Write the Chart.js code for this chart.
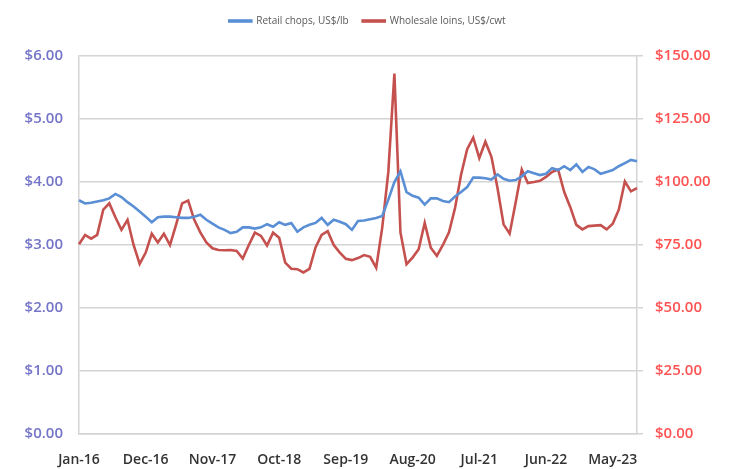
<!DOCTYPE html>
<html>
<head>
<meta charset="utf-8">
<script src="https://cdn.jsdelivr.net/npm/chart.js@4/dist/chart.umd.min.js"></script>
<style>
  html, body { margin: 0; padding: 0; background: #fff; }
  #wrap { width: 735px; height: 469px; }
</style>
</head>
<body>
<div id="wrap"><canvas id="chart"></canvas></div>
<script>
// monthly, Jan-16 .. Sep-23
const monthNames = ['Jan', 'Feb', 'Mar', 'Apr', 'May', 'Jun', 'Jul', 'Aug', 'Sep', 'Oct', 'Nov', 'Dec'];
const months = [];
for (let i = 0; i < 93; i++) {
    months.push(monthNames[i % 12] + '-' + (16 + Math.floor(i / 12)));
}

// Retail chops, US$/lb (left axis)
const retailChops = [
    3.71, 3.66, 3.67, 3.69, 3.71, 3.74, 3.81, 3.76, 3.68, 3.61, 3.53, 3.45,
    3.36, 3.44, 3.45, 3.45, 3.44, 3.43, 3.43, 3.45, 3.48, 3.40, 3.34, 3.28,
    3.24, 3.19, 3.21, 3.28, 3.28, 3.26, 3.28, 3.33, 3.29, 3.36, 3.32, 3.35,
    3.21, 3.28, 3.32, 3.35, 3.43, 3.32, 3.40, 3.37, 3.33, 3.24, 3.38, 3.39,
    3.41, 3.43, 3.46, 3.72, 4.00, 4.17, 3.84, 3.78, 3.75, 3.64, 3.74, 3.74,
    3.70, 3.68, 3.77, 3.84, 3.92, 4.07, 4.07, 4.06, 4.04, 4.12, 4.05, 4.02,
    4.03, 4.09, 4.17, 4.14, 4.11, 4.13, 4.22, 4.19, 4.25, 4.19, 4.28, 4.16,
    4.24, 4.20, 4.13, 4.16, 4.19, 4.25, 4.30, 4.35, 4.33
];

// Wholesale loins, US$/cwt (right axis)
const wholesaleLoins = [
    75.3, 79.0, 77.5, 79.0, 89.0, 91.5, 86.0, 81.0, 85.0, 75.0, 67.5, 72.0,
    79.5, 76.0, 79.5, 75.0, 83.0, 91.5, 92.6, 85.0, 80.0, 76.0, 73.7, 73.0,
    72.9, 73.0, 72.6, 69.6, 75.0, 79.9, 78.6, 74.8, 79.9, 77.9, 68.0, 65.6,
    65.4, 64.1, 65.5, 74.0, 79.0, 80.5, 75.0, 72.0, 69.5, 69.0, 69.8, 71.0,
    70.3, 66.0, 82.0, 104.0, 143.0, 80.0, 67.4, 70.0, 73.3, 83.8, 73.9, 70.7,
    75.0, 80.0, 89.7, 103.0, 113.0, 117.6, 109.5, 116.0, 110.0, 97.6, 83.2, 79.5,
    92.0, 104.9, 99.6, 100.0, 100.5, 102.0, 104.0, 104.9, 96.0, 90.0, 83.0, 81.2,
    82.5, 82.7, 82.9, 81.2, 83.4, 89.0, 100.2, 96.3, 97.6
];

const leftTicks = [0, 1, 2, 3, 4, 5, 6];
const rightTicks = [0, 25, 50, 75, 100, 125, 150];
const labelEvery = 11;

const gridColor = '#d4d4d4';
const tickFont = { family: 'Open Sans', size: 15, weight: '600' };

// leave a gap between the legend and the plot
const legendGap = {
    id: 'legendGap',
    beforeInit(chart) {
        const fit = chart.legend.fit;
        chart.legend.fit = function () {
            fit.call(this);
            this.height += 20;
        };
    }
};

new Chart(document.getElementById('chart'), {
    type: 'line',
    data: {
        labels: months,
        datasets: [{
            label: 'Retail chops, US$/lb',
            data: retailChops,
            yAxisID: 'y',
            borderColor: '#5a8fd5',
            backgroundColor: '#5a8fd5',
            borderWidth: 2.6,
            pointRadius: 0,
            tension: 0
        }, {
            label: 'Wholesale loins, US$/cwt',
            data: wholesaleLoins,
            yAxisID: 'y1',
            borderColor: '#c5514f',
            backgroundColor: '#c5514f',
            borderWidth: 2.6,
            pointRadius: 0,
            tension: 0
        }]
    },
    plugins: [legendGap],
    options: {
        responsive: true,
        maintainAspectRatio: false,
        animation: false,
        layout: { padding: { top: 2, left: 0, right: 0, bottom: 0 } },
        plugins: {
            tooltip: { enabled: false },
            legend: {
                position: 'top',
                labels: {
                    boxWidth: 22,
                    boxHeight: 1,
                    padding: 14,
                    color: '#595959',
                    font: { family: 'Open Sans', size: 10 }
                }
            }
        },
        scales: {
            x: {
                offset: false,
                grid: { display: false },
                border: { display: true, color: gridColor, width: 1.5 },
                ticks: {
                    autoSkip: false,
                    maxRotation: 0,
                    padding: 10,
                    color: '#333',
                    font: { family: 'Open Sans', size: 14, weight: '600' },
                    callback: function (value, index) {
                        return index % labelEvery === 0 ? months[index] : null;
                    }
                },
                afterFit: function (scale) { scale.height = 35; }
            },
            y: {
                position: 'left',
                min: 0,
                max: 6,
                afterBuildTicks: function (scale) {
                    scale.ticks = leftTicks.map(v => ({ value: v }));
                },
                grid: { color: gridColor, lineWidth: 1.5, drawTicks: false },
                border: { display: true, color: gridColor, width: 1.5 },
                ticks: {
                    padding: 16,
                    color: '#7474c8',
                    font: tickFont,
                    callback: v => '$' + v.toFixed(2)
                },
                afterFit: function (scale) { scale.width = 79; }
            },
            y1: {
                position: 'right',
                min: 0,
                max: 150,
                afterBuildTicks: function (scale) {
                    scale.ticks = rightTicks.map(v => ({ value: v }));
                },
                grid: { drawOnChartArea: false, color: gridColor, lineWidth: 1.5, tickLength: 6 },
                border: { display: true, color: gridColor, width: 1.5 },
                ticks: {
                    padding: 12,
                    color: '#ff5252',
                    font: tickFont,
                    callback: v => '$' + v.toFixed(2)
                },
                afterFit: function (scale) { scale.width = 98; }
            }
        }
    }
});
</script>
</body>
</html>
